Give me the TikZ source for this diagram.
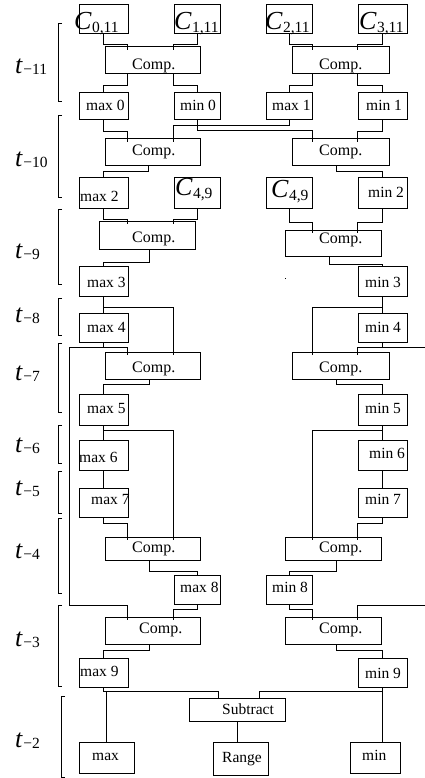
\documentclass[tikz,border=0pt]{standalone}
\usepackage{fontspec}
\setmainfont{Liberation Serif}
\usetikzlibrary{calc,fit}
\newcommand\mkbox[5]{\node[box, fit={(#2,#3) (#4,#5)}] (#1) {};}
\newcommand\Clab[1]{{\fontsize{26}{26}\selectfont\itshape C}\hspace{0.5pt}\raisebox{-3pt}{\fontsize{15.5}{15.5}\selectfont #1}}
\newcommand\Tlab[1]{{\fontsize{26}{26}\selectfont\itshape t}\hspace{1pt}\raisebox{-1pt}{\fontsize{15.5}{15.5}\selectfont −#1}}
\newcommand\brk[3]{\draw[wire] ({#1+4},#2) -- (#1,#2) -- (#1,#3) -- ({#1+4},#3);}
\begin{document}
\begin{tikzpicture}[x=1pt,y=-1pt,
 box/.style={draw, line width=1pt, inner sep=0pt, outer sep=0pt},
 wire/.style={line width=1pt},
 lbl/.style={inner sep=0pt, anchor=base west, font=\fontsize{15.5}{16}\selectfont},
 cmp/.style={inner sep=0pt, anchor=base west, font=\fontsize{16}{16}\selectfont},
 tl/.style={inner sep=0pt, anchor=base west}]
\useasboundingbox (0,0) rectangle (425,778);

% ---------- boxes ----------
\mkbox{c0}{79}{5}{128}{34}
\mkbox{c1}{174}{5}{220}{34}
\mkbox{c2}{266}{5}{312}{34}
\mkbox{c3}{358}{5}{407}{34}
\mkbox{cA}{105}{47}{200}{74}
\mkbox{cB}{292}{47}{389}{74}
\mkbox{m0}{79}{93}{128}{120}
\mkbox{n0}{174}{93}{220}{120}
\mkbox{m1}{266}{93}{312}{120}
\mkbox{n1}{358}{93}{407}{120}
\mkbox{cC}{105}{139}{200}{166}
\mkbox{cD}{292}{139}{389}{166}
\mkbox{m2}{79}{177}{128}{208}
\mkbox{c4}{174}{177}{220}{208}
\mkbox{c5}{266}{177}{312}{208}
\mkbox{n2}{358}{177}{407}{208}
\mkbox{cE}{99}{221}{195}{249}
\mkbox{cF}{285}{230}{381}{256}
\mkbox{m3}{79}{266}{128}{296}
\mkbox{n3}{358}{266}{407}{296}
\mkbox{m4}{79}{313}{128}{342}
\mkbox{n4}{358}{313}{407}{342}
\mkbox{cG}{105}{352}{200}{379}
\mkbox{cH}{292}{352}{389}{379}
\mkbox{m5}{79}{394}{128}{425}
\mkbox{n5}{358}{394}{407}{425}
\mkbox{m6}{79}{440}{128}{470}
\mkbox{n6}{358}{440}{407}{470}
\mkbox{m7}{79}{488}{128}{517}
\mkbox{n7}{358}{488}{407}{517}
\mkbox{cI}{105}{537}{200}{560}
\mkbox{cJ}{285}{537}{381}{560}
\mkbox{m8}{174}{575}{220}{604}
\mkbox{n8}{266}{575}{312}{604}
\mkbox{cK}{105}{617}{200}{644}
\mkbox{cL}{285}{617}{381}{644}
\mkbox{m9}{79}{658}{128}{687}
\mkbox{n9}{358}{658}{407}{687}
\mkbox{sub}{189}{698}{285}{721}
\mkbox{mx}{79}{742}{134}{773}
\mkbox{rg}{213}{742}{268}{775}
\mkbox{mn}{350}{742}{400}{773}

% ---------- texts ----------
\node[tl] (tc0) at (74,30) {\Clab{0,11}};
\node[tl] (tc1) at (174,30) {\Clab{1,11}};
\node[tl] (tc2) at (265,30) {\Clab{2,11}};
\node[tl] (tc3) at (359,30) {\Clab{3,11}};
\node[tl] (tc4) at (175,195) {\Clab{4,9}};
\node[tl] (tc5) at (271,197) {\Clab{4,9}};
\foreach \n/\x/\y in {cA/132/70, cB/319/70, cC/132/156, cD/319/156, cE/132/242, cF/319/243,
  cG/132/372, cH/319/372, cI/132/552, cJ/319/552, cK/139/633, cL/319/633}
  {\node[cmp] (t\n) at (\x,\y) {Comp.};}
\node[lbl] (tm0) at (86,111) {max 0};
\node[lbl] (tn0) at (180,111) {min 0};
\node[lbl] (tm1) at (272,111) {max 1};
\node[lbl] (tn1) at (366,111) {min 1};
\node[lbl] (tm2) at (80,201) {max 2};
\node[lbl] (tn2) at (368,197) {min 2};
\node[lbl] (tm3) at (87,287) {max 3};
\node[lbl] (tn3) at (365,287) {min 3};
\node[lbl] (tm4) at (87,332) {max 4};
\node[lbl] (tn4) at (365,332) {min 4};
\node[lbl] (tm5) at (87,413) {max 5};
\node[lbl] (tn5) at (365,413) {min 5};
\node[lbl] (tm6) at (79,462) {max 6};
\node[lbl] (tn6) at (369,458) {min 6};
\node[lbl] (tm7) at (91,504) {max 7};
\node[lbl] (tn7) at (365,504) {min 7};
\node[lbl] (tm8) at (180,592) {max 8};
\node[lbl] (tn8) at (272,592) {min 8};
\node[lbl] (tm9) at (80,676) {max 9};
\node[lbl] (tn9) at (365,678) {min 9};
\node[lbl] (tsub) at (222,714) {Subtract};
\node[lbl] (tmx) at (92,760) {max};
\node[lbl] (trg) at (222,762) {Range};
\node[lbl] (tmn) at (362,760) {min};

% ---------- time labels and brackets ----------
\node[tl] (t11) at (15,74) {\Tlab{11}};
\node[tl] (t10) at (15,167) {\Tlab{10}};
\node[tl] (t9) at (15,258) {\Tlab{9}};
\node[tl] (t8) at (15,322) {\Tlab{8}};
\node[tl] (t7) at (15,380) {\Tlab{7}};
\node[tl] (t6) at (15,452) {\Tlab{6}};
\node[tl] (t5) at (15,495) {\Tlab{5}};
\node[tl] (t4) at (15,558) {\Tlab{4}};
\node[tl] (t3) at (15,646) {\Tlab{3}};
\node[tl] (t2) at (15,747) {\Tlab{2}};
\brk{58}{24}{102}
\brk{58}{116}{197}
\brk{58}{209}{284}
\brk{58}{298}{335}
\brk{58}{343}{412}
\brk{58}{425}{463}
\brk{58}{471}{513}
\brk{58}{518}{593}
\brk{58}{605}{686}
\brk{61}{696}{777}

% ---------- connectors ----------
\coordinate (eR1) at (425,347);
\coordinate (eR2) at (425,605);
\draw[wire] (c0.south) -- ++(0,11) -| ($(cA.north west)+(22,3)$);
\draw[wire] (c1.south) -- ++(0,11) -| ($(cA.north west)+(68,3)$);
\draw[wire] (c2.south) -- ++(0,11) -| ($(cB.north west)+(20,3)$);
\draw[wire] (c3.south) -- ++(0,11) -| ($(cB.north west)+(65,3)$);
\draw[wire] ($(cA.south west)+(22,0)$) -- ++(0,12) -| (m0.north);
\draw[wire] ($(cA.south west)+(68,0)$) -- ++(0,12) -| (n0.north);
\draw[wire] ($(cB.south west)+(20,0)$) -- ++(0,12) -| (m1.north);
\draw[wire] ($(cB.south west)+(65,0)$) -- ++(0,12) -| (n1.north);
\draw[wire] (m0.south) -- ++(0,12) -| ($(cC.north west)+(22,3)$);
\draw[wire] (m1.south) -- ++(0,6) -| ($(cC.north west)+(68,3)$);
\draw[wire] (n0.south) -- ++(0,11) -| ($(cD.north west)+(20,3)$);
\draw[wire] (n1.south) -- ++(0,12) -| ($(cD.north west)+(65,3)$);
\draw[wire] ($(cC.south west)+(43,0)$) -- ++(0,6) -| (m2.north);
\draw[wire] ($(cD.south west)+(44,0)$) -- ++(0,6) -| (n2.north);
\draw[wire] (m2.south) -- ++(0,11) -| ($(cE.north west)+(28,3)$);
\draw[wire] (c4.south) -- ++(0,11) -| ($(cE.north west)+(74,3)$);
\draw[wire] (c5.south) -- ++(0,14) -| ($(cF.north west)+(27,3)$);
\draw[wire] (n2.south) -- ++(0,14) -| ($(cF.north west)+(72,3)$);
\draw[wire] ($(cE.south west)+(50,0)$) -- ++(0,13) -| (m3.north);
\draw[wire] ($(cF.south west)+(44,0)$) -- ++(0,8) -| (n3.north);
\draw[wire] (m3.south) -- (m4.north);
\draw[wire] ($(m3.south)+(0,11)$) -| ($(cG.north west)+(68,3)$);
\draw[wire] (n3.south) -- (n4.north);
\draw[wire] ($(n3.south)+(0,11)$) -| ($(cH.north west)+(20,3)$);
\draw[wire] (m4.south) -- ++(0,5) -| ($(cG.north west)+(22,3)$);
\draw[wire] ($(m4.south)+(0,5)$) -- ++(-34.5,0) |- ($(cK.north west)+(22,-12)$) -- ($(cK.north west)+(22,3)$);
\draw[wire] (n4.south) -- ++(0,5) -| ($(cH.north west)+(65,3)$);
\draw[wire] ($(cH.north west)+(65,-5)$) -- (eR1);
\draw[wire] ($(cG.south west)+(44,0)$) -- ++(0,5) -| (m5.north);
\draw[wire] ($(cH.south west)+(44,0)$) -- ++(0,5) -| (n5.north);
\draw[wire] (m5.south) -- (m6.north);
\draw[wire] ($(m5.south)+(0,5)$) -| ($(cI.north west)+(68,3)$);
\draw[wire] (n5.south) -- (n6.north);
\draw[wire] ($(n5.south)+(0,5)$) -| ($(cJ.north west)+(27,3)$);
\draw[wire] (m6.south) -- (m7.north);
\draw[wire] (n6.south) -- (n7.north);
\draw[wire] (m7.south) -- ++(0,6) -| ($(cI.north west)+(22,3)$);
\draw[wire] (n7.south) -- ++(0,6) -| ($(cJ.north west)+(72,3)$);
\draw[wire] ($(cI.south west)+(44,0)$) -- ++(0,11) -| (m8.north);
\draw[wire] ($(cJ.south west)+(51,0)$) -- ++(0,11) -| (n8.north);
\draw[wire] (m8.south) -- ++(0,5) -| ($(cK.north west)+(68,3)$);
\draw[wire] (n8.south) -- ++(0,5) -| ($(cL.north west)+(27,3)$);
\draw[wire] (eR2) -| ($(cL.north west)+(72,3)$);
\draw[wire] ($(cK.south west)+(44,0)$) -- ++(0,6) -| (m9.north);
\draw[wire] ($(cL.south west)+(51,0)$) -- ++(0,6) -| (n9.north);
\draw[wire] (m9.south) -- ++(0,4) -| ($(sub.north west)+(29,0)$);
\draw[wire] (mx.north) -- ++(0,-51);
\draw[wire] (n9.south) -- (n9.south |- mn.north);
\draw[wire] ($(n9.south)+(0,4)$) -| ($(sub.north west)+(70,0)$);
\draw[wire] (sub.south) -- (sub.south |- rg.north);
\fill (284.5,277.5) rectangle ++(1.3,1.3);
\end{tikzpicture}
\end{document}
